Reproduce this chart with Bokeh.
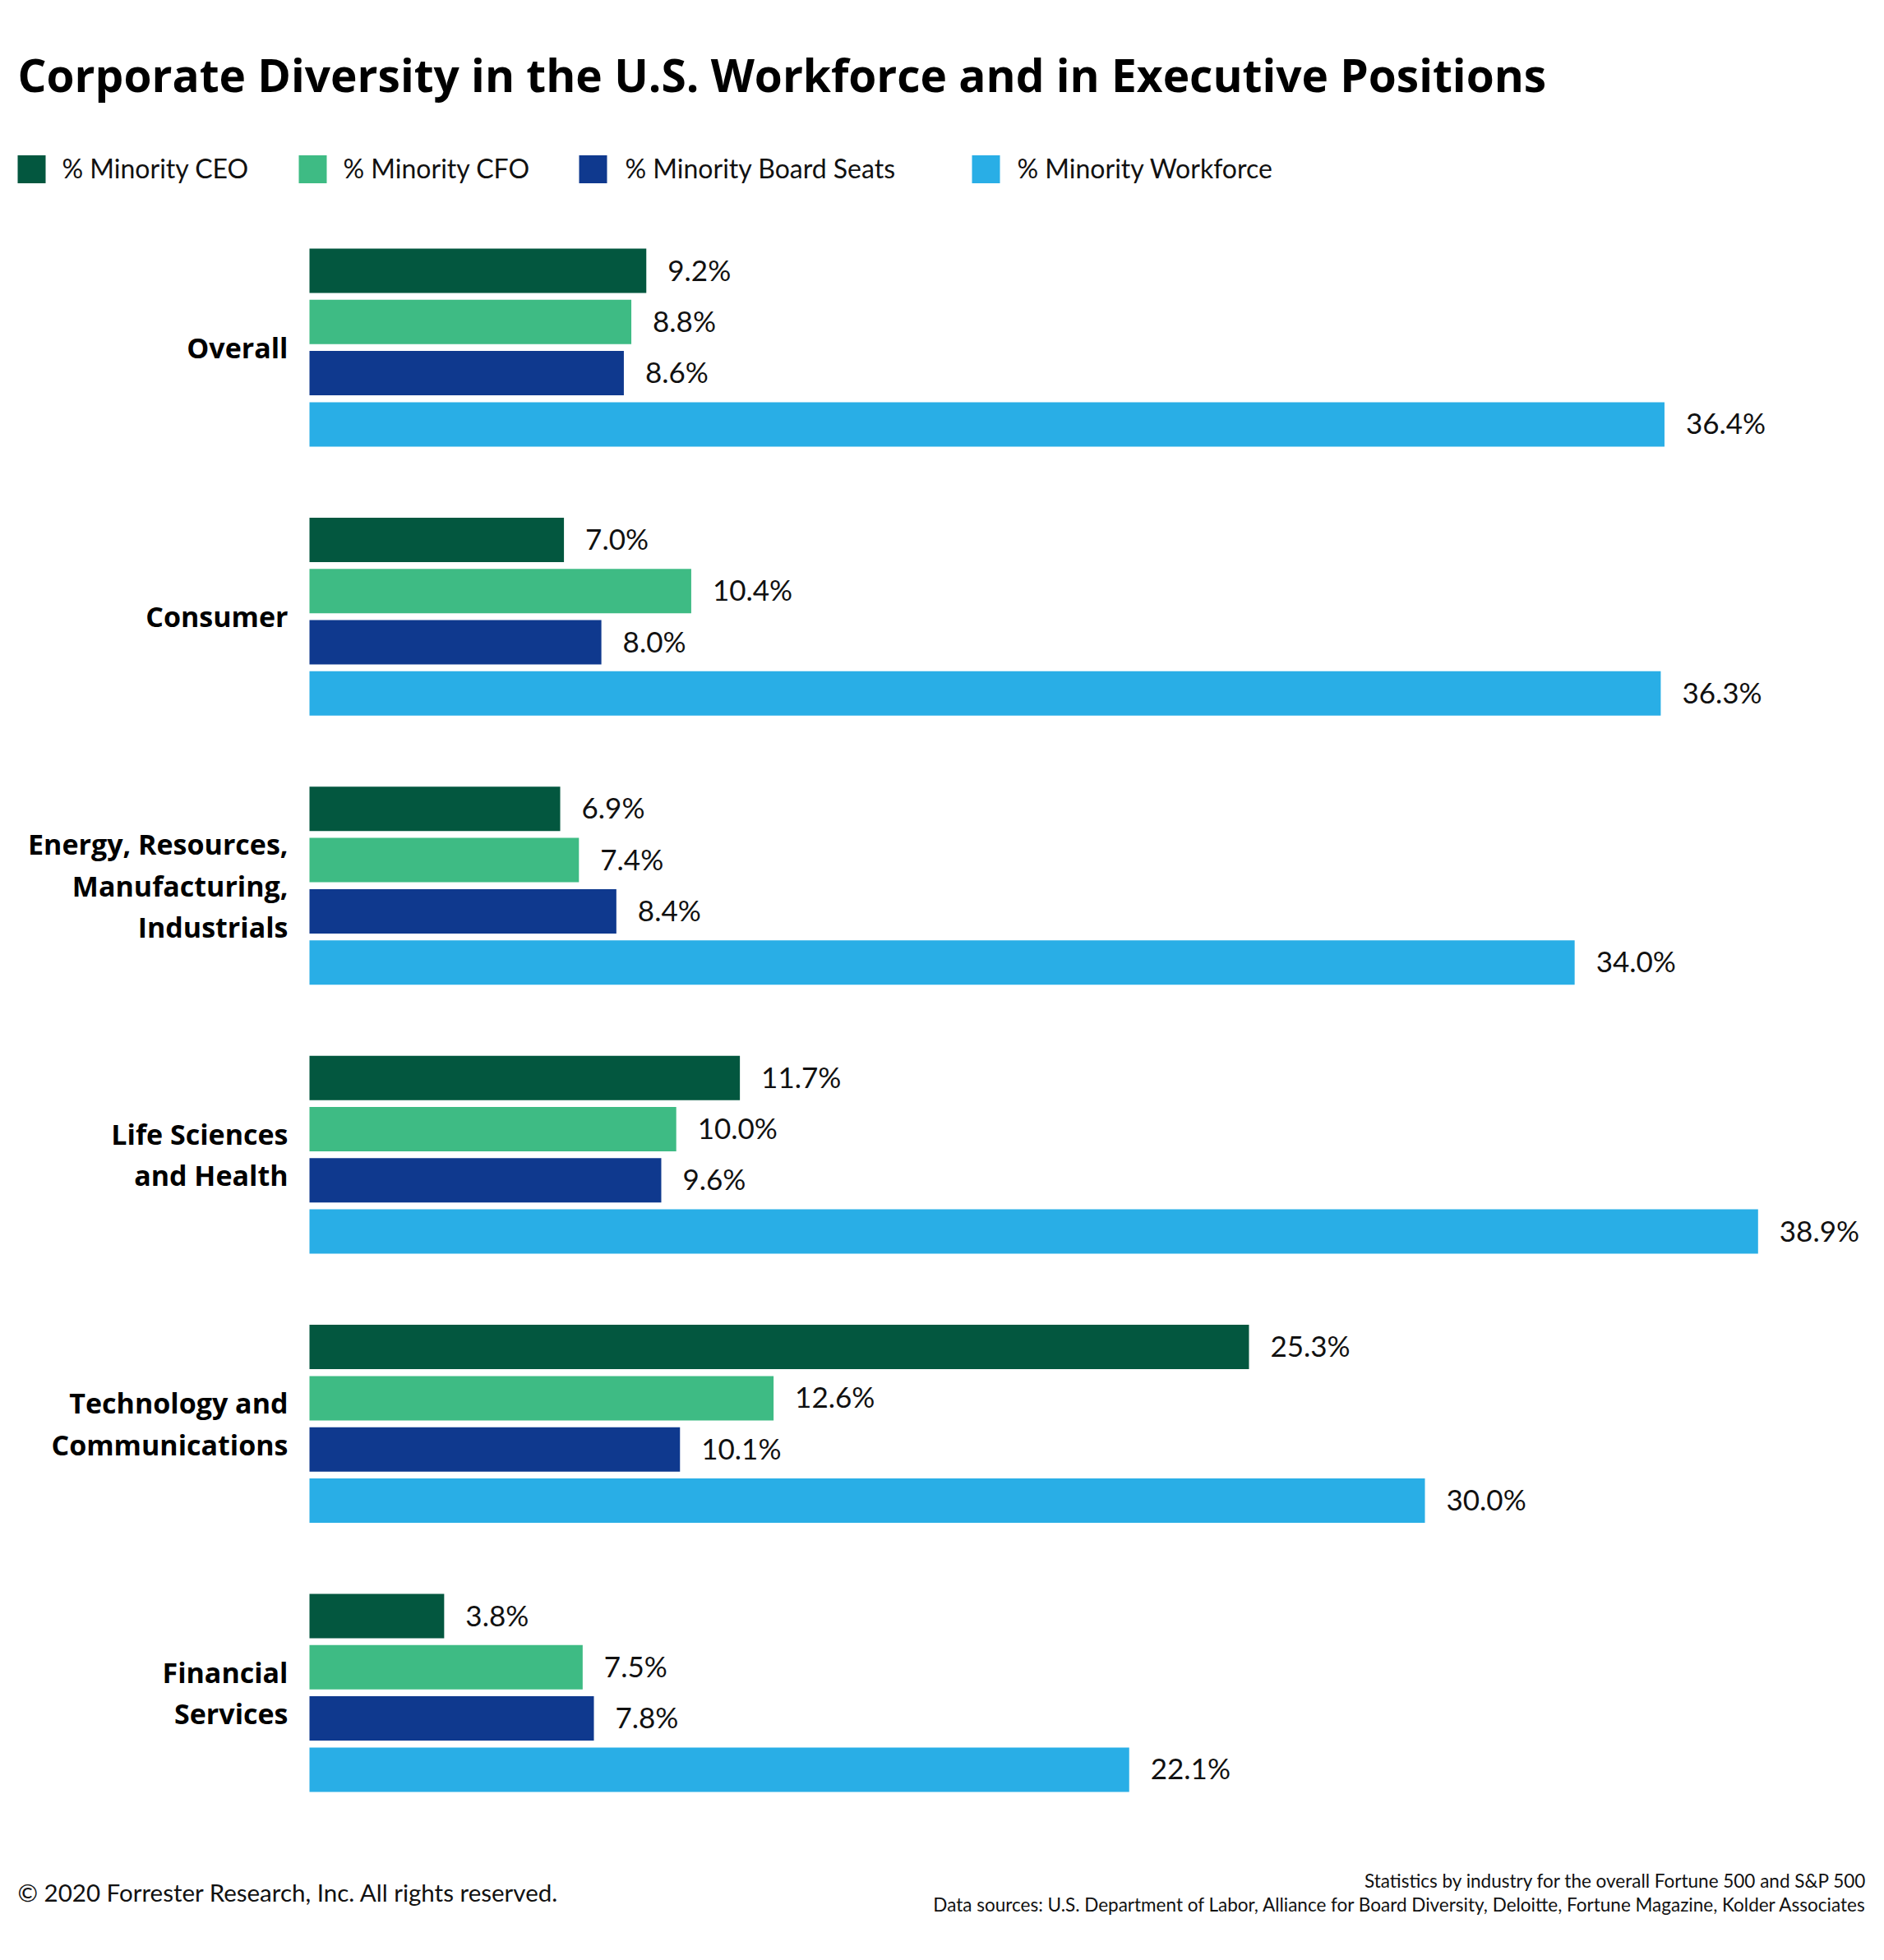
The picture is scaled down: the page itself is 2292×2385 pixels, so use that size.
from bokeh.plotting import figure
from bokeh.models import Range1d, Label, ColumnDataSource
from bokeh.core.properties import value
from bokeh.embed import file_html
from bokeh.resources import INLINE

# ---------------- data ----------------
categories = ["Overall", "Consumer", "Energy, Resources,\nManufacturing,\nIndustrials",
              "Life Sciences\nand Health", "Technology and\nCommunications", "Financial\nServices"]
series = ["% Minority CEO", "% Minority CFO", "% Minority Board Seats", "% Minority Workforce"]
ceo = [9.2, 7.0, 6.9, 11.7, 25.3, 3.8]
cfo = [8.8, 10.4, 7.4, 10.0, 12.6, 7.5]
board = [8.6, 8.0, 8.4, 9.6, 10.1, 7.8]
workforce = [36.4, 36.3, 34.0, 38.9, 30.0, 22.1]
colors = ["#03573f", "#3ebb84", "#0f398e", "#29aee6"]

# ---------------- layout ----------------
W, H = 2276, 2369
OFF = 0
X0 = 366.8          # page px of 0 %
PPU = 45.54         # page px per percent
BAR_LEFT = 376.0    # page px where the bars visibly start
FONT = value("Lato")
BFONT = value("Open Sans")

def px(X):
    return (X - X0) / PPU

p = figure(width=W, height=H, output_backend="svg", toolbar_location=None,
           x_range=Range1d(px(OFF), px(OFF + W)), y_range=Range1d(OFF + H, OFF),
           min_border=0, outline_line_color=None, background_fill_color="white")
p.axis.visible = False
p.grid.visible = False

y0, gstep, sstep, bh = 329.0, 327.4, 62.3, 54.0
all_vals = [ceo, cfo, board, workforce]
for s, vals in enumerate(all_vals):
    ys = [y0 + g * gstep + s * sstep for g in range(len(categories))]
    src = ColumnDataSource(dict(y=ys, ly=[y - 2 for y in ys], v=vals,
                                lab=[f"{v:.1f}%" for v in vals],
                                lx=[v + 26 / PPU for v in vals]))
    p.hbar(y="y", left=px(BAR_LEFT), right="v", height=bh, source=src, color=colors[s], line_color=None)
    p.text(x="lx", y="ly", text="lab", source=src, text_font=FONT, text_font_size="35px",
           text_baseline="middle", text_align="left", text_color="#111111")

# category labels
cy = [y0 + g * gstep + 1.5 * sstep for g in range(len(categories))]
csrc = ColumnDataSource(dict(x=[px(350)] * len(categories), y=cy, t=categories))
p.text(x="x", y="y", text="t", source=csrc, text_font=BFONT, text_font_size="34px",
       text_font_style="bold", text_align="right", text_baseline="middle",
       text_line_height=1.1, text_color="#000000")

# legend
sq_x = [21, 363, 704, 1182]
tx_x = [75, 417, 760, 1237]
ly = 205.5
lsrc = ColumnDataSource(dict(l=[px(a) for a in sq_x], r=[px(a + 34) for a in sq_x],
                             t=[ly - 17] * 4, b=[ly + 17] * 4, c=colors,
                             tx=[px(a) for a in tx_x], ty=[ly - 2] * 4, lab=series))
p.quad(left="l", right="r", top="t", bottom="b", color="c", line_color=None, source=lsrc)
p.text(x="tx", y="ty", text="lab", source=lsrc, text_font=FONT, text_font_size="32px",
       text_baseline="middle", text_color="#111111")

# title
p.add_layout(Label(x=px(21), y=90, text="Corporate Diversity in the U.S. Workforce and in Executive Positions",
                   text_font="Open Sans", text_font_size="55px", text_font_style="bold",
                   text_baseline="middle", text_color="#000000"))

# footers
p.add_layout(Label(x=px(21), y=2302, text="\u00a9 2020 Forrester Research, Inc. All rights reserved.",
                   text_font="Lato", text_font_size="29.5px", text_baseline="middle", text_color="#111111"))
p.add_layout(Label(x=px(2271), y=2288, text="Statistics by industry for the overall Fortune 500 and S&P 500",
                   text_font="Lato", text_font_size="22.5px", text_baseline="middle", text_align="right",
                   text_color="#111111"))
p.add_layout(Label(x=px(2271), y=2317,
                   text="Data sources: U.S. Department of Labor, Alliance for Board Diversity, Deloitte, Fortune Magazine, Kolder Associates",
                   text_font="Lato", text_font_size="22.5px", text_baseline="middle", text_align="right",
                   text_color="#111111"))

open("out.html", "w").write(file_html(p, INLINE))
